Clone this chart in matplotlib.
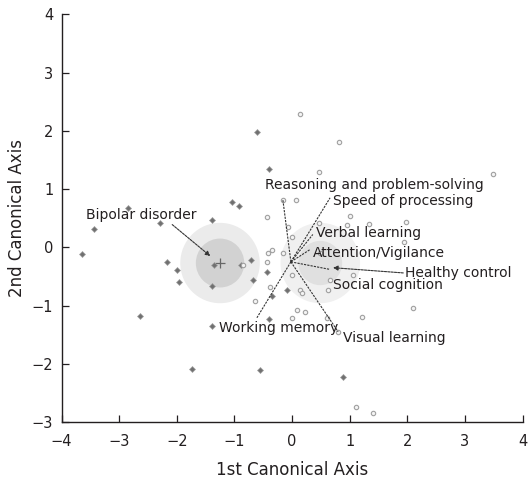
import matplotlib
matplotlib.use("Agg")
import matplotlib.pyplot as plt
from matplotlib.patches import Circle

# canonical scores
bipolar_x = [-2.85, -3.44, -2.29, -3.65, -2.17, -2.00, -1.96, -2.64, -1.39, -1.04,
             -0.92, -1.36, -0.89, -1.39, -0.68, -1.39, -0.56, -1.74, -0.61, -0.40,
             -0.43, -0.35, -0.09, 0.89, -0.40, -0.71]
bipolar_y = [0.68, 0.32, 0.42, -0.11, -0.25, -0.39, -0.60, -1.18, 0.47, 0.78,
             0.71, -0.31, -0.31, -0.67, -0.56, -1.36, -2.10, -2.09, 1.98, 1.35,
             -0.42, -0.83, -0.73, -2.23, -1.23, -0.21]
healthy_x = [0.14, 0.82, 0.47, 0.07, -0.43, -0.42, 1.00, 0.95, 0.47, -0.07,
             0.00, -0.35, -0.16, -0.43, -0.85, 0.00, 0.14, 0.63, 0.49, 0.66,
             -0.64, -0.38, 0.17, 0.09, 0.23, 0.00, 0.61, 0.80, 1.22, 1.11,
             1.41, 1.33, 1.98, 1.95, 1.05, 2.10, 3.49, -0.16]
healthy_y = [2.29, 1.81, 1.29, 0.82, 0.52, -0.10, 0.54, 0.39, 0.42, 0.35,
             0.18, -0.04, -0.10, -0.25, -0.30, -0.47, -0.73, -0.73, -0.10, -0.56,
             -0.93, -0.69, -0.79, -1.07, -1.11, -1.21, -1.21, -1.45, -1.19, -2.75,
             -2.84, 0.40, 0.44, 0.09, -0.47, -1.05, 1.26, 0.82]

# group means and confidence radii
group_names = ["Bipolar disorder", "Healthy control"]
group_cx = [-1.25, 0.49]
group_cy = [-0.27, -0.27]
outer_r = [0.69, 0.69]
inner_r = [0.42, 0.38]

# biplot rays (origin -> end) and label anchors
origin = (-0.02, -0.25)
ray_names = ["Reasoning and problem-solving", "Speed of processing", "Verbal learning",
             "Attention/Vigilance", "Social cognition", "Working memory", "Visual learning"]
ray_x = [-0.16, 0.66, 0.36, 0.31, 0.66, -0.61, 0.80]
ray_y = [0.82, 0.85, 0.22, -0.04, -0.38, -1.21, -1.45]
ray_lx = [-0.47, 0.71, 0.42, 0.37, 0.71, -1.27, 0.89]
ray_ly = [1.07, 0.80, 0.25, -0.09, -0.64, -1.38, -1.55]

# group label anchors and pointer start
grp_lx = [-3.58, 1.96]
grp_ly = [0.56, -0.44]
ptr_x0 = [-2.08, 1.93]
ptr_y0 = [0.39, -0.44]
ptr_x1 = [-1.42, 0.71]
ptr_y1 = [-0.15, -0.35]

txt = "#231f20"
fig = plt.figure(figsize=(5.31, 4.79), dpi=100)
ax = fig.add_axes([0.116, 0.119, 0.868, 0.851])

outer_col = ["#ebebeb", "#f0f0f0"]
inner_col = ["#d2d2d2", "#e0e0e0"]
for i in range(2):
    ax.add_patch(Circle((group_cx[i], group_cy[i]), outer_r[i], color=outer_col[i], lw=0, zorder=1))
    ax.add_patch(Circle((group_cx[i], group_cy[i]), inner_r[i], color=inner_col[i], lw=0, zorder=1))
ax.plot(group_cx[0], group_cy[0], marker="+", color="#666666", ms=7, mew=0.9, zorder=3)

ax.scatter(bipolar_x, bipolar_y, s=9, marker="D", color="#707070", edgecolors="#a0a0a0",
           linewidths=0.5, zorder=3)
ax.scatter(healthy_x, healthy_y, s=10, marker="o", facecolors="#f4f4f4", edgecolors="#a0a0a0",
           linewidths=0.8, zorder=3)

for i in range(len(ray_names)):
    ax.plot([origin[0], ray_x[i]], [origin[1], ray_y[i]], color="#333333", lw=0.8,
            ls=(0, (2, 1)), zorder=4)
    ax.text(ray_lx[i], ray_ly[i], ray_names[i], fontsize=10, color=txt,
            ha="left", va="center", zorder=5)

for i in range(2):
    ax.annotate("", xy=(ptr_x1[i], ptr_y1[i]), xytext=(ptr_x0[i], ptr_y0[i]),
                arrowprops=dict(arrowstyle="-|>", color="#333333", lw=0.8, ls=(0, (2, 1)),
                                mutation_scale=7, shrinkA=0, shrinkB=0), zorder=4)
    ax.text(grp_lx[i], grp_ly[i], group_names[i], fontsize=10, color=txt,
            ha="left", va="center", zorder=5)

ax.set_xlim(-4, 4)
ax.set_ylim(-3, 4)
ax.set_xticks(range(-4, 5))
ax.set_yticks(range(-3, 5))
ax.spines["top"].set_visible(False)
ax.spines["right"].set_visible(False)
for s in ["left", "bottom"]:
    ax.spines[s].set_color(txt)
    ax.spines[s].set_linewidth(1.0)
ax.tick_params(direction="in", length=5, width=0.9, color=txt, labelsize=10.5,
               labelcolor=txt)
ax.tick_params(axis="x", pad=9)
ax.tick_params(axis="y", pad=6)
ax.set_xlabel("1st Canonical Axis", fontsize=12, color=txt, labelpad=8)
ax.set_ylabel("2nd Canonical Axis", fontsize=12, color=txt, labelpad=4)

fig.savefig("out.png", dpi=100)
